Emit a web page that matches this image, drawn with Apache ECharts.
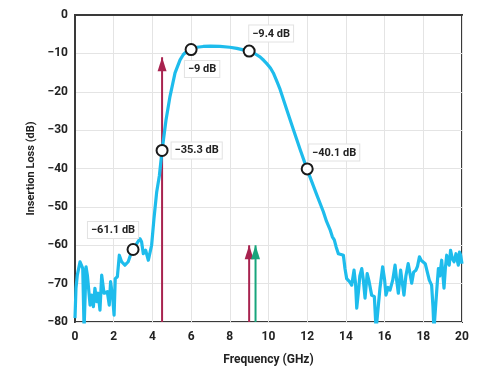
<!DOCTYPE html>
<html>
<head>
<meta charset="utf-8">
<script src="https://cdn.jsdelivr.net/npm/echarts@6/dist/echarts.min.js"></script>
<style>html,body{margin:0;padding:0;background:#fff}#c{width:498px;height:371px}</style>
</head>
<body>
<div id="c"></div>
<script>
// Insertion loss trace (GHz, dB)
const freq = [0,0.05,0.12,0.26,0.4,0.47,0.57,0.64,0.78,0.86,0.95,1.03,1.12,1.2,1.29,1.38,1.5,1.6,1.67,1.77,1.84,1.95,2.02,2.08,2.19,2.29,2.41,2.58,2.75,2.89,3.01,3.19,3.36,3.44,3.53,3.65,3.79,3.96,4.08,4.22,4.36,4.5,4.7,4.91,5.17,5.43,5.6,5.77,6,6.3,6.63,7,7.49,8,8.36,8.7,9,9.3,9.56,9.75,9.9,10.1,10.25,10.45,10.6,10.94,11.28,11.63,12,12.25,12.49,12.83,13,13.18,13.3,13.4,13.5,13.61,13.75,13.87,13.95,14.04,14.1,14.21,14.3,14.42,14.5,14.56,14.65,14.72,14.82,14.9,14.99,15.1,15.2,15.33,15.47,15.56,15.62,15.76,15.9,16,16.07,16.18,16.28,16.42,16.54,16.62,16.71,16.83,16.92,17,17.1,17.22,17.3,17.4,17.5,17.62,17.7,17.8,17.9,18,18.1,18.18,18.31,18.43,18.5,18.55,18.65,18.72,18.78,18.85,18.95,19.07,19.14,19.21,19.28,19.34,19.41,19.5,19.59,19.69,19.75,19.81,19.87,19.93,20];
const loss = [-79,-71.2,-67.8,-64.3,-66,-82,-65.6,-67.8,-75.6,-73,-76,-71.2,-74.7,-72.5,-76.9,-67.8,-72.5,-73,-72.1,-75.6,-69.5,-73.8,-78.2,-68.7,-68.2,-62.6,-64.3,-65.2,-64.3,-62.2,-62.2,-59.6,-58.3,-59.1,-62.2,-61.3,-63.9,-60,-53.1,-46.2,-41.9,-35.3,-27.5,-21.2,-15.1,-11.7,-10.3,-9.5,-8.9,-8.4,-8.2,-8.1,-8.2,-8.4,-8.7,-9.1,-9.5,-10.1,-10.9,-11.8,-12.6,-13.8,-15.1,-17.5,-19.4,-24.6,-29.8,-35,-40.3,-43.6,-46.8,-51.2,-53.8,-55.9,-57.8,-58.6,-60.5,-62.2,-62.4,-62.6,-66,-68.7,-68.2,-69.6,-70.4,-66.5,-70,-76.4,-72,-68,-66.1,-69,-73.8,-67.4,-69.5,-73,-73.4,-82,-82,-71.2,-65.6,-69,-73,-71,-71.7,-69.1,-65.2,-69,-72.5,-66.5,-70,-73,-68,-64.8,-67,-69.9,-67,-66.5,-65.5,-63,-64,-64.3,-64.8,-65.2,-69.1,-70.4,-76,-82,-82,-70,-66.1,-68,-63.9,-71.2,-66,-62.6,-64.5,-65.2,-61.3,-63.5,-64.3,-62.2,-63.8,-65.2,-61.8,-62.6,-64.8];

// Annotated points
const markX = [3, 4.5, 6, 9, 12];
const markY = [-61.1, -35.3, -9, -9.4, -40.1];

// Arrows (frequency, tip level, colour)
const arrowX = [4.5, 9, 9.33];
const arrowTip = [-11, -60, -60];
const arrowColor = ['#a8234f', '#a8234f', '#19a57c'];

// Axis ticks
const xTicks = [0,2,4,6,8,10,12,14,16,18,20];
const yTicks = [0,-10,-20,-30,-40,-50,-60,-70,-80];

const FONT = 'Roboto';
const labelPos = [
  {position:'top', offset:[-20,0]},
  {position:'right', distance:3},
  {position:'bottom', offset:[11,0]},
  {position:'top', offset:[22,2]},
  {position:'top', offset:[27,3]}
];

const fmt = v => (v < 0 ? '\u2212' + Math.abs(v) : String(v));

const series = [];
arrowX.forEach((x, i) => {
  series.push({
    type: 'line',
    z: 2,
    silent: true,
    lineStyle: {color: arrowColor[i], width: 2},
    itemStyle: {color: arrowColor[i]},
    data: [
      {value: [x, -80], symbol: 'none'},
      {value: [x, arrowTip[i]], symbol: 'triangle', symbolSize: [9, 14], symbolOffset: [0, 7]}
    ]
  });
});
series.push({
  type: 'line',
  z: 3,
  data: freq.map((f, i) => [f, loss[i]]),
  showSymbol: false,
  symbol: 'none',
  lineStyle: {color: '#1ebcec', width: 3.2, join: 'round'}
});
series.push({
  type: 'scatter',
  z: 5,
  symbol: 'circle',
  symbolSize: 11,
  itemStyle: {color: '#fff', borderColor: '#1a1a1a', borderWidth: 2, opacity: 1},
  data: markX.map((x, i) => ({
    value: [x, markY[i]],
    label: Object.assign({
      show: true,
      formatter: fmt(markY[i]) + ' dB',
      color: '#222',
      fontFamily: FONT,
      fontWeight: 'bold',
      fontSize: 11,
      backgroundColor: '#fff',
      borderColor: '#e2e2e2',
      borderWidth: 1,
      padding: [3, 3, 2, 3]
    }, labelPos[i])
  }))
});

const chart = echarts.init(document.getElementById('c'), null, {renderer: 'canvas'});
chart.setOption({
  animation: false,
  backgroundColor: '#fff',
  grid: {left: 75, right: 36, top: 15, bottom: 47, show: true, borderColor: '#3a3a3a', borderWidth: 2, backgroundColor: 'transparent'},
  xAxis: {
    type: 'value', min: xTicks[0], max: xTicks[xTicks.length - 1], interval: 2,
    name: 'Frequency (GHz)', nameLocation: 'middle', nameGap: 32,
    nameTextStyle: {fontFamily: FONT, fontWeight: 'bold', fontSize: 12, color: '#222'},
    axisLine: {show: true, lineStyle: {color: '#3a3a3a', width: 2}},
    axisTick: {show: false},
    axisLabel: {fontFamily: FONT, fontWeight: 'bold', fontSize: 12, color: '#222', margin: 9},
    splitLine: {show: true, lineStyle: {color: '#e4e4e4', width: 1}}
  },
  yAxis: {
    type: 'value', min: yTicks[yTicks.length - 1], max: yTicks[0], interval: 10,
    name: 'Insertion Loss (dB)', nameLocation: 'middle', nameGap: 37,
    nameTextStyle: {fontFamily: FONT, fontWeight: 'bold', fontSize: 11, color: '#222'},
    axisLine: {show: true, lineStyle: {color: '#3a3a3a', width: 2}},
    axisTick: {show: false},
    axisLabel: {fontFamily: FONT, fontWeight: 'bold', fontSize: 12, color: '#222', margin: 7, formatter: v => fmt(v)},
    splitLine: {show: true, lineStyle: {color: '#e4e4e4', width: 1}}
  },
  series: series
});
</script>
</body>
</html>
